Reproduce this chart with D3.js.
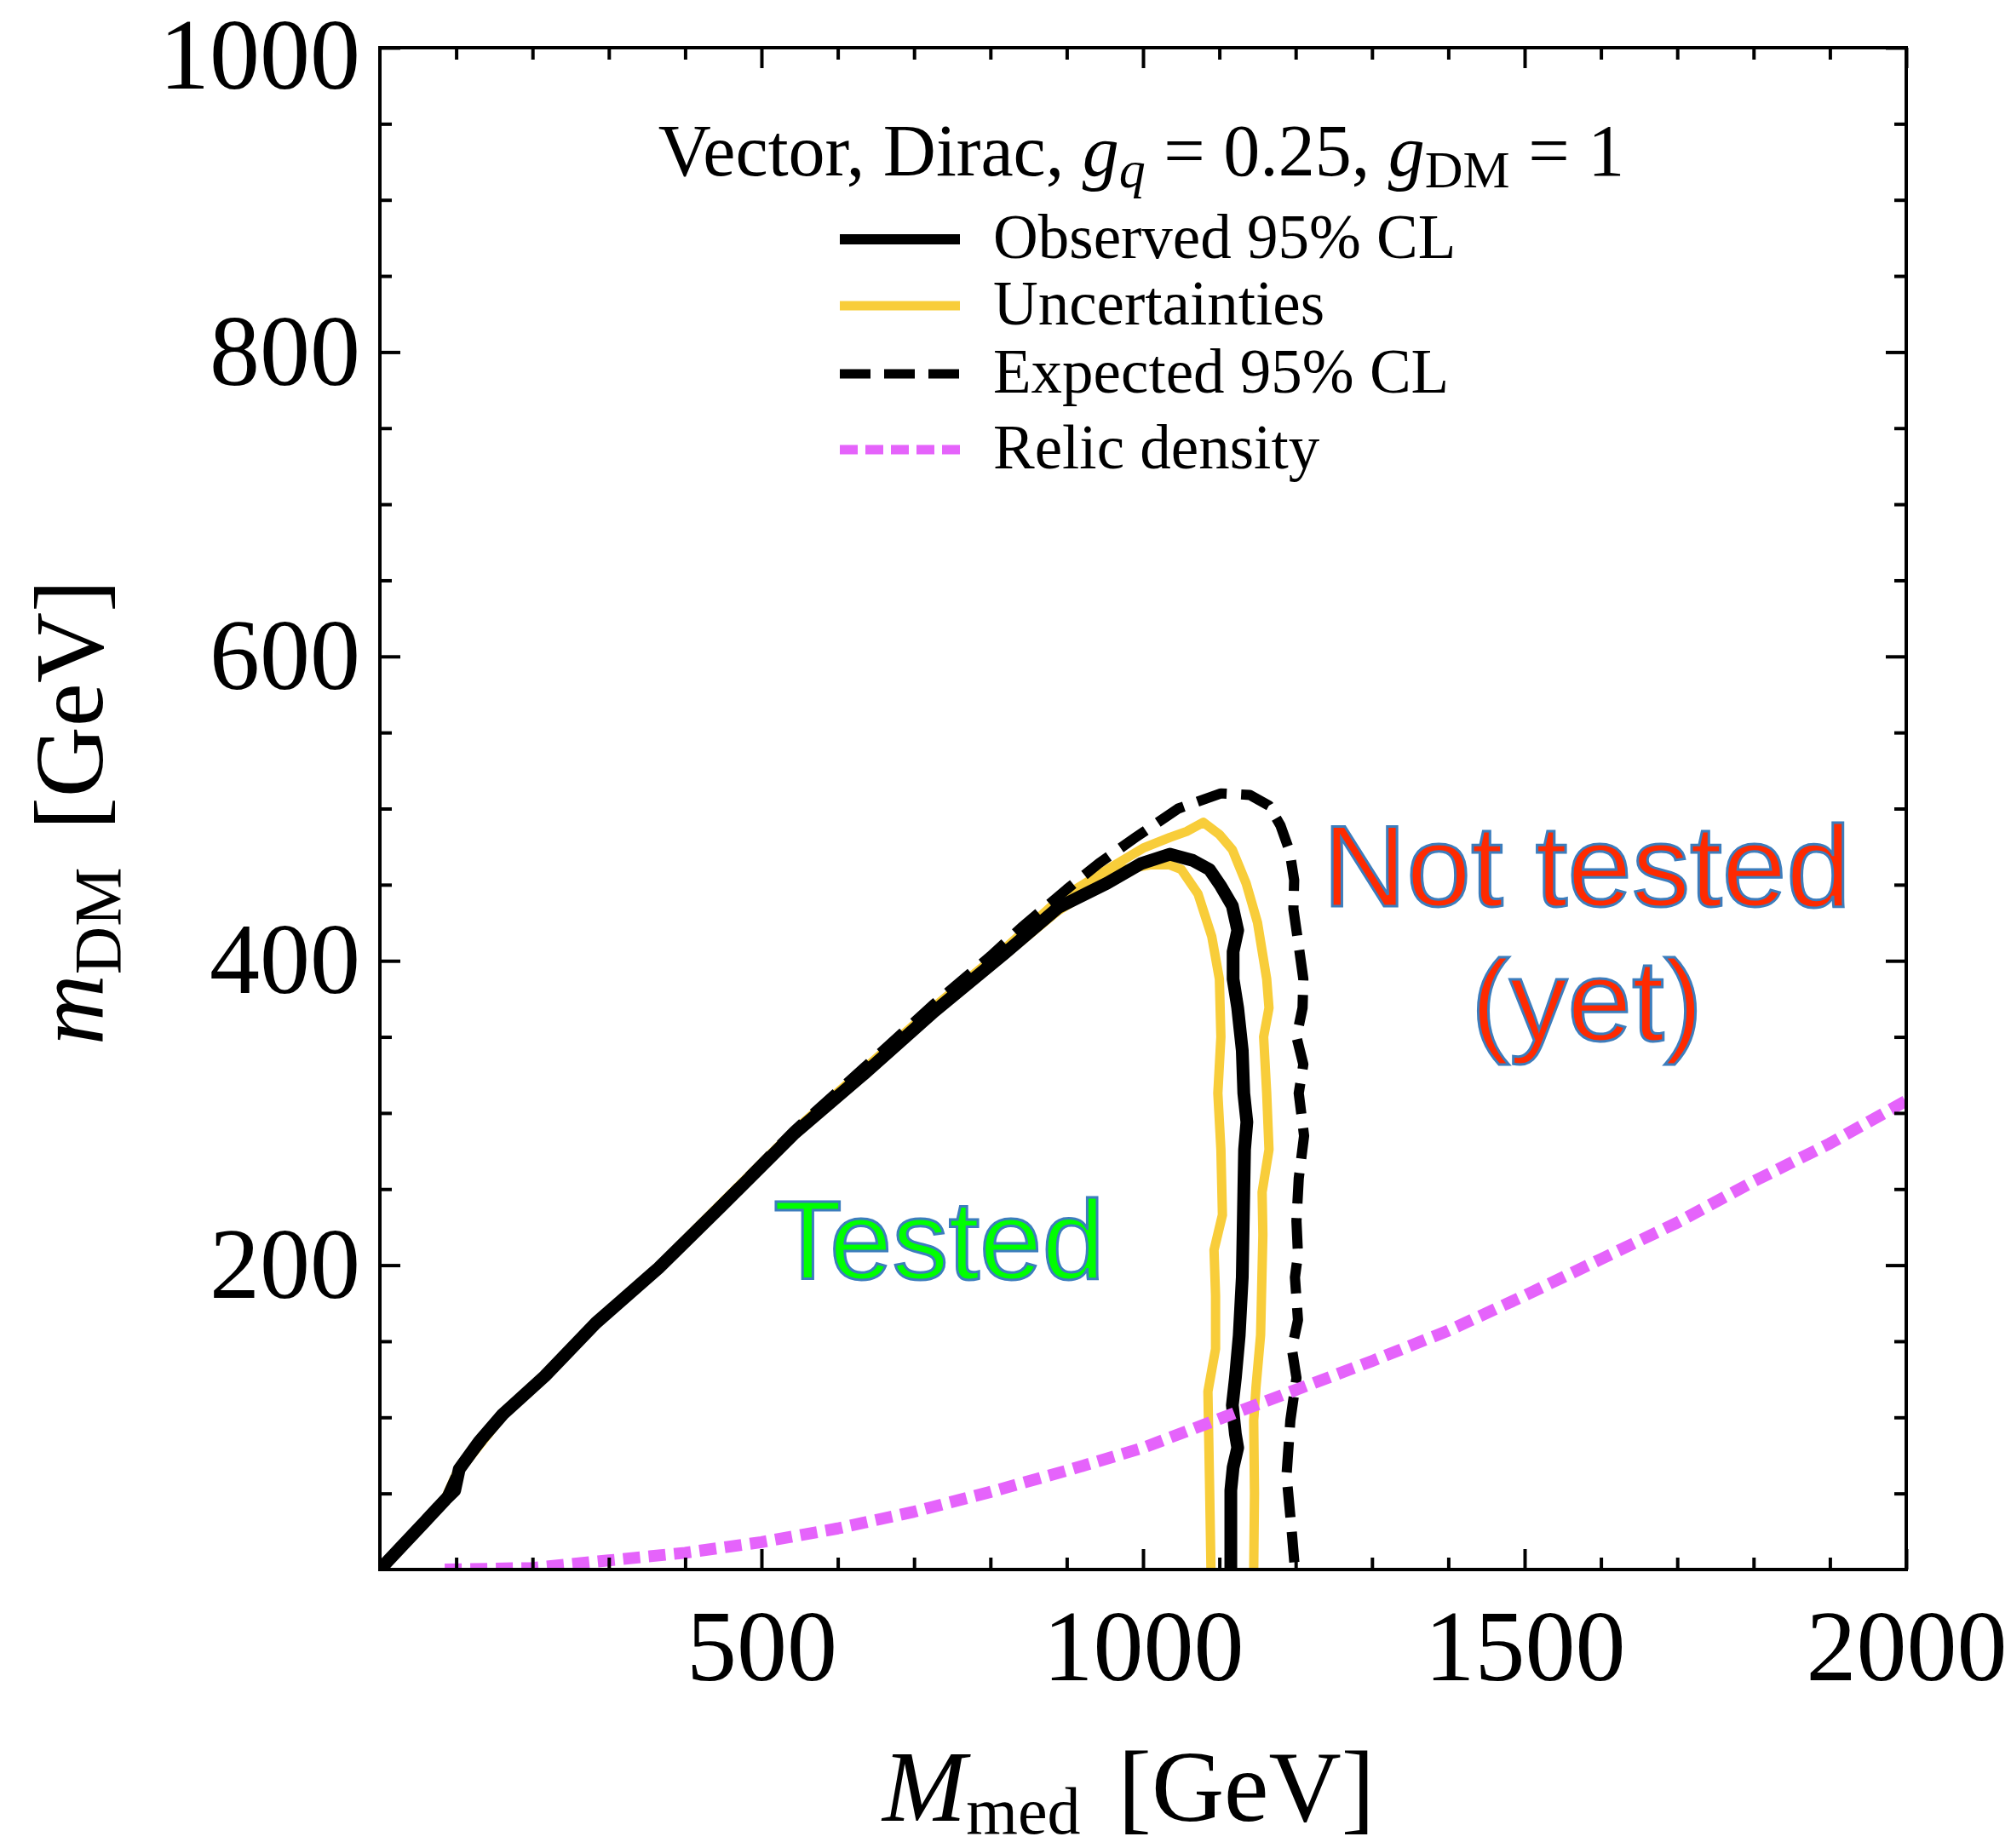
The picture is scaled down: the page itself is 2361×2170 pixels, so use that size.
<!DOCTYPE html>
<html>
<head>
<meta charset="utf-8">
<script src="https://cdn.jsdelivr.net/npm/d3@7"></script>
<style>
  body { margin: 0; background: #fff; }
  text { font-family: "Liberation Serif", "Times New Roman", serif; }
</style>
</head>
<body>
<script>
// limits, [M_med, m_DM] in GeV
const observed = [[0,0],[30,16],[60,32],[86,46],[98,52],[104,66],[130,84],[161,102],[216,127],[283,162],[365,198],[450,240],[542,286],[635,326],[727,367],[819,405],[889,435],[953,451],[998,464],[1035,470],[1065,466],[1087,460],[1102,449],[1117,436],[1124,420],[1118,406],[1118,388],[1124,369],[1130,341],[1132,313],[1136,294],[1133,276],[1132,248],[1130,192],[1126,154],[1121,126],[1117,108],[1121,89],[1124,80],[1118,67],[1115,52],[1115,0]];
const expected = [[0,0],[86,46],[104,66],[161,102],[216,127],[283,162],[365,198],[450,241],[542,288],[635,330],[727,372],[800,403],[841,422],[900,447],[942,464],[990,481],[1046,500],[1102,510],[1140,509],[1165,502],[1180,489],[1192,472],[1198,453],[1197,434],[1205,406],[1210,388],[1209,369],[1201,350],[1210,332],[1204,313],[1211,285],[1204,257],[1201,229],[1203,207],[1199,192],[1203,164],[1195,145],[1201,126],[1193,98],[1188,62],[1195,24],[1199,0]];
const uncUpper = [[0,0],[86,47],[104,67],[161,103],[216,128],[283,163],[365,199],[450,242],[542,288],[635,329],[727,370],[819,408],[889,440],[950,459],[1000,474],[1035,481],[1057,485],[1079,491],[1100,483],[1117,473],[1135,451],[1150,425],[1162,388],[1165,369],[1158,350],[1162,313],[1165,276],[1156,248],[1157,220],[1154,154],[1148,120],[1145,98],[1146,50],[1145,0]];
const uncLower = [[0,0],[86,45],[104,65],[161,101],[216,126],[283,161],[365,197],[450,239],[542,285],[635,325],[727,366],[819,404],[889,433],[950,452],[975,460],[1009,463],[1035,463],[1050,460],[1072,444],[1090,416],[1100,388],[1102,350],[1098,313],[1102,276],[1104,233],[1093,210],[1095,180],[1095,145],[1085,117],[1087,60],[1089,0]];
const relicX = [85, 200, 300, 400, 500, 600, 700, 800, 900, 1000, 1100, 1200, 1300, 1400, 1500, 1600, 1700, 1800, 1900, 2000];
const relicY = [0, 1, 6, 11, 18, 27, 38, 51, 65, 80, 99, 118, 137, 157, 180, 204, 228, 255, 280, 308];

const xMajor = [500, 1000, 1500, 2000];
const yMajor = [200, 400, 600, 800, 1000];
const legendLabels = ["Observed 95% CL", "Uncertainties", "Expected 95% CL", "Relic density"];

const width = 2361, height = 2170;
const yellow = "#f8cd3a", pink = "#e563fb";

const svg = d3.select("body").append("svg")
  .attr("width", width)
  .attr("height", height);

const x = d3.scaleLinear().domain([0, 2000]).range([446, 2238]);
const y = d3.scaleLinear().domain([0, 1000]).range([1843, 56]);

// clip curves to the frame
svg.append("clipPath").attr("id", "plot")
  .append("rect")
  .attr("x", x(0)).attr("y", y(1000))
  .attr("width", x(2000) - x(0)).attr("height", y(0) - y(1000));

const line = d3.line().x(d => x(d[0])).y(d => y(d[1]));
const curves = svg.append("g").attr("clip-path", "url(#plot)");

const styles = [
  { data: uncUpper, color: yellow, w: 11, dash: null },
  { data: uncLower, color: yellow, w: 11, dash: null },
  { data: observed, color: "#000", w: 15, dash: null },
  { data: expected, color: "#000", w: 12, dash: "36,17" },
  { data: relicX.map((v, i) => [v, relicY[i]]), color: pink, w: 14, dash: "20,10" }
];

styles.forEach(s => {
  curves.append("path")
    .attr("d", line(s.data))
    .attr("fill", "none")
    .attr("stroke", s.color)
    .attr("stroke-width", s.w)
    .attr("stroke-linejoin", "round")
    .attr("stroke-dasharray", s.dash);
});

//axes: ticks point inwards, labels only bottom/left
const tickStyle = g => {
  g.select(".domain").remove();
  g.selectAll("line").attr("stroke", "#000").attr("stroke-width", 4);
  g.selectAll("text").attr("font-size", 118).attr("fill", "#000")
    .style("font-family", "'Liberation Serif', 'Times New Roman', serif");
};
const xMinor = d3.range(100, 2000, 100).filter(v => !xMajor.includes(v));
const yMinor = d3.range(50, 1000, 50).filter(v => !yMajor.includes(v));

svg.append("g").attr("transform", `translate(0,${y(0)})`)
  .call(d3.axisBottom(x).tickValues(xMajor).tickSize(-24).tickPadding(46).tickFormat(d3.format("d")))
  .call(tickStyle);
svg.append("g").attr("transform", `translate(0,${y(0)})`)
  .call(d3.axisBottom(x).tickValues(xMinor).tickSize(-14).tickFormat(""))
  .call(tickStyle);
svg.append("g").attr("transform", `translate(0,${y(1000)})`)
  .call(d3.axisTop(x).tickValues(xMajor).tickSize(-24).tickFormat(""))
  .call(tickStyle);
svg.append("g").attr("transform", `translate(0,${y(1000)})`)
  .call(d3.axisTop(x).tickValues(xMinor).tickSize(-14).tickFormat(""))
  .call(tickStyle);

const yAxis = svg.append("g").attr("transform", `translate(${x(0)},0)`)
  .call(d3.axisLeft(y).tickValues(yMajor).tickSize(-24).tickPadding(23).tickFormat(d3.format("d")))
  .call(tickStyle);
// top label would poke out of the page, nudge it down a bit
yAxis.selectAll(".tick text").filter(d => d === 1000).attr("y", 10);

svg.append("g").attr("transform", `translate(${x(0)},0)`)
  .call(d3.axisLeft(y).tickValues(yMinor).tickSize(-14).tickFormat(""))
  .call(tickStyle);
svg.append("g").attr("transform", `translate(${x(2000)},0)`)
  .call(d3.axisRight(y).tickValues(yMajor).tickSize(-24).tickFormat(""))
  .call(tickStyle);
svg.append("g").attr("transform", `translate(${x(2000)},0)`)
  .call(d3.axisRight(y).tickValues(yMinor).tickSize(-14).tickFormat(""))
  .call(tickStyle);

svg.append("rect")
  .attr("x", x(0)).attr("y", y(1000))
  .attr("width", x(2000) - x(0)).attr("height", y(0) - y(1000))
  .attr("fill", "none").attr("stroke", "#000").attr("stroke-width", 4);

//axis titles
const xt = svg.append("text")
  .attr("x", 1036).attr("y", 2138)
  .attr("font-size", 118);
xt.append("tspan").attr("font-style", "italic").text("M");
xt.append("tspan").attr("font-size", 78).attr("dy", 15).text("med");
xt.append("tspan").attr("dy", -15).attr("dx", 44).text("[GeV]");

const yt = svg.append("text")
  .attr("transform", "translate(120,954) rotate(-90)")
  .attr("text-anchor", "middle")
  .attr("font-size", 115);
yt.append("tspan").attr("font-style", "italic").text("m");
yt.append("tspan").attr("font-size", 78).attr("dy", 21).text("DM");
yt.append("tspan").attr("dy", -21).attr("dx", 44).text("[GeV]");

//legend
const title = svg.append("text")
  .attr("x", 1340).attr("y", 206)
  .attr("text-anchor", "middle")
  .attr("font-size", 86);
title.append("tspan").text("Vector, Dirac, ");
title.append("tspan").attr("font-style", "italic").text("g");
title.append("tspan").attr("font-style", "italic").attr("font-size", 62).attr("dy", 14).text("q");
title.append("tspan").attr("dy", -14).text(" = 0.25, ");
title.append("tspan").attr("font-style", "italic").text("g");
title.append("tspan").attr("font-size", 62).attr("dy", 14).text("DM");
title.append("tspan").attr("dy", -14).text(" = 1");

const legendY = [281, 359, 439, 528];
const legend = svg.append("g");
legendLabels.forEach((lab, i) => {
  const s = [styles[2], styles[0], styles[3], styles[4]][i];
  const ly = legendY[i];
  legend.append("line")
    .attr("x1", 986).attr("x2", 1127)
    .attr("y1", ly).attr("y2", ly)
    .attr("stroke", s.color)
    .attr("stroke-width", i === 0 ? 12 : 11)
    .attr("stroke-dasharray", i === 2 ? "36,16" : i === 3 ? "21,9" : null);
  legend.append("text")
    .attr("x", 1166).attr("y", ly + 22)
    .attr("font-size", 73)
    .text(lab);
});

//annotations
const note = (txt, xx, yy, fill, anchor) => svg.append("text")
  .attr("x", xx).attr("y", yy)
  .attr("text-anchor", anchor)
  .attr("font-size", 136)
  .attr("fill", fill)
  .attr("stroke", "#3c7dbd")
  .attr("stroke-width", 3)
  .style("font-family", "'Liberation Sans', Arial, sans-serif")
  .text(txt);

note("Not tested", 1863, 1064, "#ff2a00", "middle");
note("(yet)", 1863, 1222, "#ff2a00", "middle");
note("Tested", 908, 1502, "#00ff00", "start").attr("font-size", 132);
</script>
</body>
</html>
